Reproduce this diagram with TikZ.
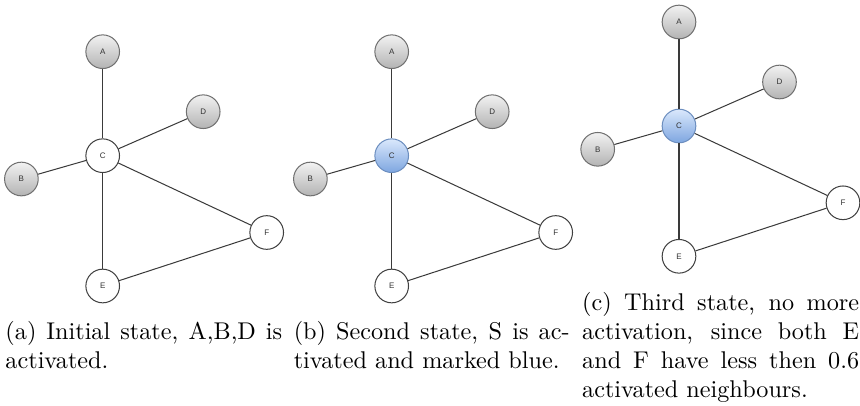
\documentclass[tikz,border=0pt]{standalone}
\usepackage{fontspec}
\newfontfamily\nodefont{Liberation Sans}

\definecolor{grayTop}{HTML}{F2F2F2}
\definecolor{grayBot}{HTML}{B3B3B3}
\definecolor{grayStroke}{HTML}{707070}
\definecolor{blueTop}{HTML}{DAE8FC}
\definecolor{blueBot}{HTML}{7EA6E0}
\definecolor{blueStroke}{HTML}{6C8EBF}
\definecolor{plainStroke}{HTML}{404040}
\definecolor{edgeGray}{HTML}{3A3A3A}
\definecolor{labelGray}{HTML}{333333}

\tikzset{
  vertex/.style={circle, minimum size=13.9pt, inner sep=0pt, line width=0.42pt,
    font=\nodefont\fontsize{3.3}{4}\selectfont, text=labelGray},
  inactive/.style={vertex, draw=plainStroke, fill=white},
  active/.style={vertex, draw=grayStroke, top color=grayTop, bottom color=grayBot},
  marked/.style={vertex, draw=blueStroke, top color=blueTop, bottom color=blueBot},
  link/.style={draw=edgeGray, line width=0.42pt},
  captext/.style={anchor=base west, inner sep=0pt, font=\normalsize},
}

% one state of the network: #1 name prefix, #2 centre of C, #3 style of C
\newcommand\graphpanel[3]{%
  \begin{scope}[shift={#2}]
    \node[active]  (#1A) at (0,-104)      {A};
    \node[#3]      (#1C) at (0,0)         {C};
    \node[active]  (#1D) at (100.5,-44)   {D};
    \node[active]  (#1B) at (-81.3,23.3)  {B};
    \node[inactive](#1F) at (164,76.8)    {F};
    \node[inactive](#1E) at (0,130.3)     {E};
  \end{scope}
  \draw[link] (#1A) -- (#1C);
  \draw[link] (#1C) -- (#1D);
  \draw[link] (#1C) -- (#1B);
  \draw[link] (#1C) -- (#1F);
  \draw[link] (#1C) -- (#1E);
  \draw[link] (#1E) -- (#1F);
}

% a fully justified caption line: #1 column width, #2 text
\newcommand\capline[2]{\makebox[#1][s]{#2}}

\begin{document}
\begin{tikzpicture}[x=0.413pt, y=-0.413pt]
  \useasboundingbox (0,0) rectangle (860,406);

  \graphpanel{a}{(102.7,155.7)}{inactive}
  \graphpanel{b}{(391.7,155.7)}{marked}
  \graphpanel{c}{(679,126)}{marked}

  % captions
  \node[captext] (capa1) at (5,339) {\capline{114.3pt}{(a) Initial state, A,B,D is}};
  \node[captext] (capa2) at (5,368) {activated.};

  \node[captext] (capb1) at (293.3,339) {\capline{113.9pt}{(b) Second state, S is ac-}};
  \node[captext] (capb2) at (293.3,368) {tivated and marked blue.};

  \node[captext] (capc1) at (581.7,310) {\capline{114.4pt}{(c) Third state, no more}};
  \node[captext] (capc2) at (581.7,339) {\capline{114.4pt}{activation, since both E}};
  \node[captext] (capc3) at (581.7,368) {\capline{114.4pt}{and F have less then 0.6}};
  \node[captext] (capc4) at (581.7,397) {activated neighbours.};
\end{tikzpicture}
\end{document}
